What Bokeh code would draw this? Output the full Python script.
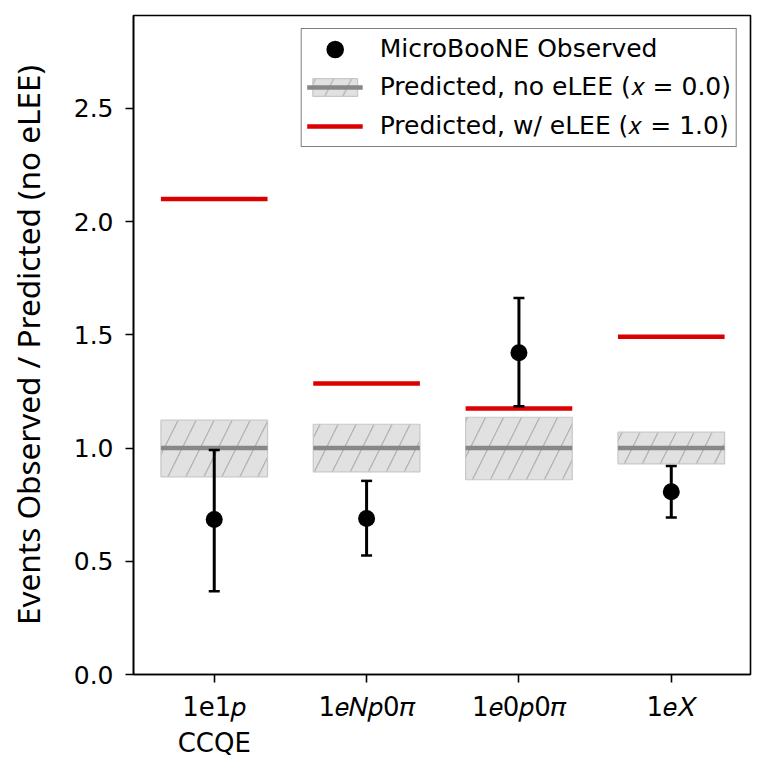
from bokeh.plotting import figure
from bokeh.models import ColumnDataSource, FixedTicker, Range1d, Legend, LegendItem
from bokeh.embed import file_html
from bokeh.resources import INLINE

# ---- data ----
categories = ["1e1\U0001D45D\nCCQE",
              "1\U0001D452\U0001D441\U0001D45D0\U0001D70B",
              "1\U0001D4520\U0001D45D0\U0001D70B",
              "1\U0001D452\U0001D44B"]
observed = [0.684, 0.689, 1.421, 0.807]
observed_hi = [0.991, 0.855, 1.662, 0.921]
observed_lo = [0.368, 0.526, 1.184, 0.693]
pred_nominal = [1.0, 1.0, 1.0, 1.0]
pred_hi = [1.123, 1.105, 1.136, 1.070]
pred_lo = [0.873, 0.895, 0.860, 0.930]
pred_elee = [2.100, 1.285, 1.175, 1.491]
yticks = [0.0, 0.5, 1.0, 1.5, 2.0, 2.5]

xpos = list(range(len(categories)))
hw = 0.35  # half width of the prediction boxes (style)

src = ColumnDataSource(dict(
    x=xpos,
    left=[x - hw for x in xpos],
    right=[x + hw for x in xpos],
    obs=observed, obs_hi=observed_hi, obs_lo=observed_lo,
    nom=pred_nominal, p_hi=pred_hi, p_lo=pred_lo, elee=pred_elee,
))

p = figure(width=752, height=760, output_backend="svg", toolbar_location=None,
           x_range=Range1d(-0.53, 3.52), y_range=Range1d(0, 2.91),
           min_border_left=133, min_border_right=2, min_border_top=15, min_border_bottom=82)
p.xgrid.visible = False
p.ygrid.visible = False
p.outline_line_color = "black"
p.outline_line_width = 1.6
p.background_fill_color = "white"
p.border_fill_color = "white"

# prediction band
band = p.quad(left="left", right="right", bottom="p_lo", top="p_hi", source=src,
              fill_color="#dedede", fill_alpha=0.9, line_color="#c8c8c8", line_width=1.2,
              hatch_pattern="/", hatch_color="#b2b2b2", hatch_scale=36, hatch_weight=1.3)
nom = p.segment(x0="left", x1="right", y0="nom", y1="nom", source=src,
                line_color="#878787", line_width=4.5)
# eLEE prediction
red = p.segment(x0="left", x1="right", y0="elee", y1="elee", source=src,
                line_color="#dd0000", line_width=4.5)
# observed with error bars
err = p.segment(x0="x", x1="x", y0="obs_lo", y1="obs_hi", source=src,
                line_color="black", line_width=3)
cap_hi = p.scatter(x="x", y="obs_hi", source=src, marker="dash", size=11,
                   line_color="black", line_width=2.5)
cap_lo = p.scatter(x="x", y="obs_lo", source=src, marker="dash", size=11,
                   line_color="black", line_width=2.5)
pts = p.ellipse(x="x", y="obs", source=src, width=17, height=17,
                width_units="screen", height_units="screen",
                fill_color="black", line_color=None)

# axes
p.xaxis.ticker = FixedTicker(ticks=xpos)
p.xaxis.major_label_overrides = {i: c for i, c in enumerate(categories)}
p.yaxis.ticker = FixedTicker(ticks=yticks)
p.yaxis.major_label_overrides = {v: f"{v:.1f}" for v in yticks}
for ax in (p.xaxis[0], p.yaxis[0]):
    ax.major_label_text_font = "DejaVu Sans"
    ax.major_label_text_color = "black"
    ax.major_tick_in = 0
    ax.major_tick_out = 8
    ax.major_tick_line_width = 1.6
    ax.major_tick_line_color = "black"
    ax.minor_tick_line_color = None
    ax.axis_line_width = 1.6
    ax.axis_line_color = "black"
p.xaxis.major_label_text_font_size = "26px"
p.yaxis.major_label_text_font_size = "25px"
p.xaxis.major_label_standoff = 9
p.yaxis.major_label_standoff = 12
p.yaxis.axis_label = "Events Observed / Predicted (no eLEE)"
p.yaxis.axis_label_text_font = "Noto Sans"
p.yaxis.axis_label_text_font_style = "normal"
p.yaxis.axis_label_text_font_size = "31.5px"
p.yaxis.axis_label_text_color = "black"
p.yaxis.axis_label_standoff = 22

legend = Legend(items=[
    LegendItem(label="MicroBooNE Observed", renderers=[pts]),
    LegendItem(label="Predicted, no eLEE (\U0001D465 = 0.0)", renderers=[band, nom]),
    LegendItem(label="Predicted, w/ eLEE (\U0001D465 = 1.0)", renderers=[red]),
], location="top_right")
legend.margin = 13
legend.padding = 5
legend.spacing = 9
legend.glyph_width = 56
legend.glyph_height = 22
legend.label_standoff = 17
legend.label_text_font = "DejaVu Sans"
legend.label_text_font_size = "25px"
legend.label_text_color = "black"
legend.border_line_color = "black"
legend.border_line_width = 1.6
legend.background_fill_alpha = 1.0
p.add_layout(legend)

open("out.html", "w").write(file_html(p, INLINE))
